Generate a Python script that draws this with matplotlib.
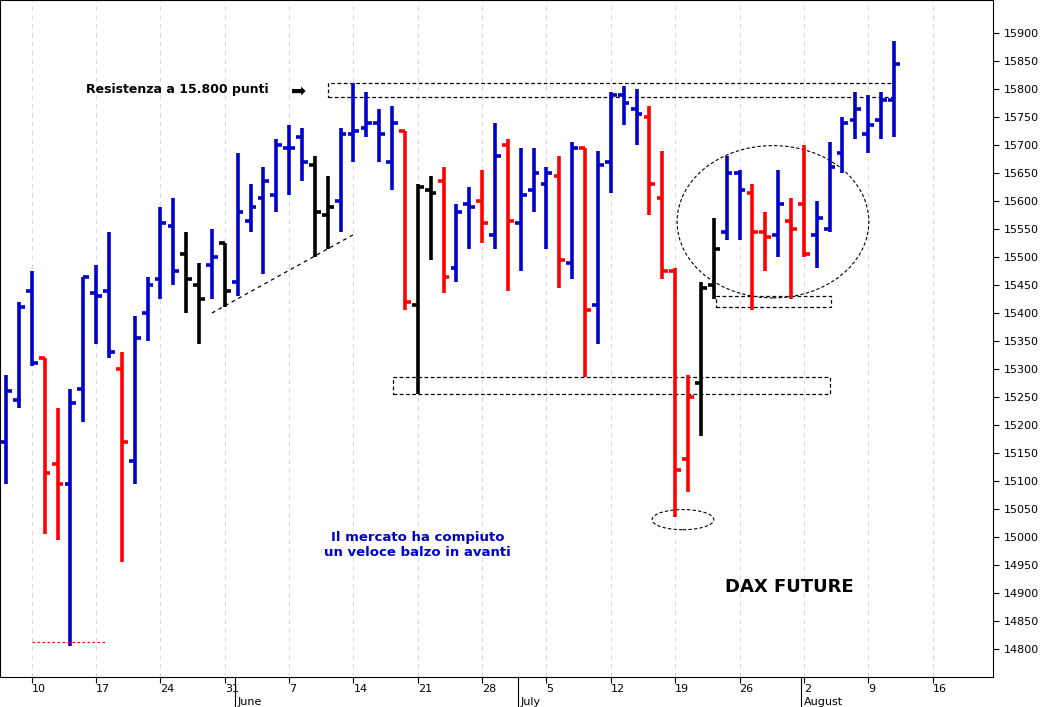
import numpy as np
import pandas as pd
import matplotlib
matplotlib.use("Agg")
import matplotlib.pyplot as plt
from matplotlib.patches import Rectangle, Ellipse

# DAX future daily bars, 6 May - 11 Aug 2021
dates = pd.bdate_range("2021-05-06", periods=70)
opens = [15170, 15245, 15440, 15320, 15130, 15095, 15265, 15435, 15440, 15300,
         15135, 15400, 15460, 15555, 15505, 15450, 15485, 15525, 15455, 15565,
         15605, 15610, 15695, 15715, 15665, 15575, 15600, 15720, 15730, 15740,
         15670, 15725, 15415, 15620, 15635, 15480, 15595, 15600, 15540, 15700,
         15560, 15620, 15630, 15645, 15490, 15695, 15415, 15670, 15790, 15765,
         15750, 15605, 15475, 15140, 15275, 15450, 15545, 15650, 15615, 15545,
         15540, 15565, 15595, 15540, 15550, 15685, 15745, 15720, 15745, 15780]
highs = [15290, 15420, 15475, 15320, 15230, 15265, 15465, 15485, 15545, 15330,
         15395, 15465, 15590, 15605, 15545, 15490, 15550, 15525, 15685, 15630,
         15660, 15710, 15735, 15730, 15680, 15645, 15730, 15810, 15795, 15765,
         15770, 15725, 15630, 15645, 15660, 15595, 15625, 15655, 15740, 15710,
         15695, 15695, 15660, 15680, 15705, 15695, 15690, 15795, 15805, 15800,
         15770, 15690, 15480, 15290, 15455, 15570, 15680, 15655, 15630, 15580,
         15655, 15605, 15700, 15600, 15705, 15750, 15795, 15790, 15795, 15885]
lows = [15095, 15230, 15305, 15005, 14995, 14805, 15205, 15345, 15320, 14955,
        15095, 15350, 15425, 15450, 15400, 15345, 15425, 15410, 15430, 15545,
        15470, 15580, 15610, 15635, 15500, 15515, 15545, 15670, 15715, 15670,
        15620, 15405, 15255, 15495, 15435, 15455, 15515, 15525, 15515, 15440,
        15475, 15580, 15515, 15445, 15460, 15285, 15345, 15615, 15735, 15700,
        15575, 15460, 15035, 15080, 15180, 15425, 15530, 15530, 15405, 15475,
        15500, 15425, 15500, 15480, 15545, 15650, 15710, 15685, 15710, 15715]
closes = [15260, 15410, 15310, 15115, 15095, 15240, 15465, 15430, 15330, 15170,
          15355, 15450, 15560, 15475, 15460, 15425, 15500, 15440, 15580, 15590,
          15635, 15700, 15695, 15670, 15580, 15590, 15720, 15725, 15740, 15720,
          15740, 15420, 15625, 15615, 15465, 15580, 15590, 15560, 15680, 15565,
          15610, 15650, 15650, 15495, 15695, 15405, 15665, 15790, 15775, 15755,
          15630, 15475, 15120, 15250, 15445, 15515, 15650, 15620, 15545, 15535,
          15595, 15550, 15505, 15570, 15660, 15740, 15765, 15735, 15780, 15845]
colors = list("bbbrrbbbbrbbbbkkbkbbbbbbkkbbbbbrkkrbbrbrbbbrbrbbbbrrrrkkbbrrbrrbbbbbbb")

cmap = {"b": "#0000cc", "r": "#ff0000", "k": "#000000"}
bar_colors = [cmap[c] for c in colors]

fig = plt.figure(figsize=(10.42, 7.07), dpi=100)
ax = fig.add_axes([0, 30 / 707, 993 / 1042, 677 / 707])

x = np.arange(len(dates))
ax.vlines(x, lows, highs, colors=bar_colors, lw=2.6)
ax.hlines(opens, x - 0.45, x, colors=bar_colors, lw=2.6)
ax.hlines(closes, x, x + 0.45, colors=bar_colors, lw=2.6)

ax.set_xlim(-0.47, 76.7)
ax.set_ylim(14750, 15959)

# weekly grid on Mondays
mondays = [i for i, d in enumerate(dates) if d.weekday() == 0]
grid_pos = mondays + [mondays[-1] + 5]
for g in grid_pos:
    ax.axvline(g, color="#d8d8e0", lw=0.8, ls=(0, (4, 4)), zorder=0)
day_labels = [str(d.day) for d in dates[mondays]] + ["16"]
ax.set_xticks(grid_pos)
ax.set_xticklabels(day_labels, fontsize=8)
ax.tick_params(axis="x", length=4, pad=1)
for lbl in ax.get_xticklabels():
    lbl.set_horizontalalignment("left")

ax.yaxis.tick_right()
ax.set_yticks(np.arange(14800, 15901, 50))
ax.tick_params(axis="y", labelsize=8, length=4)

# month labels
for pos, name in [(18, "June"), (40, "July"), (62, "August")]:
    ax.text(pos, -0.03, name, transform=ax.get_xaxis_transform(), fontsize=8,
            ha="left", va="top")
    ax.plot([pos - 0.2, pos - 0.2], [-0.045, 0], transform=ax.get_xaxis_transform(),
            color="black", lw=0.8, clip_on=False)

# annotations
dash = dict(fill=False, ls=(0, (3, 2)), lw=0.9, ec="black")
ax.add_patch(Rectangle((25.0, 15785), 43.9, 25, **dash))
ax.add_patch(Rectangle((30.1, 15255), 33.9, 30, **dash))
ax.add_patch(Rectangle((55.2, 15410), 8.9, 20, **dash))
ax.add_patch(Ellipse((59.6, 15563), 14.9, 272, fill=False, ls=(0, (3, 2)), lw=0.8))
ax.add_patch(Ellipse((52.6, 15031), 4.8, 36, fill=False, ls=(0, (3, 2)), lw=0.8))
ax.plot([16, 27], [15400, 15540], color="black", ls=(0, (3, 3)), lw=0.9)
ax.plot([2, 7.7], [14812, 14812], color="red", ls=(0, (2, 2)), lw=0.9)

ax.text(6.2, 15800, "Resistenza a 15.800 punti", fontsize=9, fontweight="bold",
        va="center")
ax.text(22.7, 15796, "\u27a1", fontsize=13, va="center", ha="center")
ax.text(32, 14985, "Il mercato ha compiuto\nun veloce balzo in avanti", fontsize=9.5,
        fontweight="bold", color="#0000cc", ha="center", va="center")
ax.text(60.9, 14910, "DAX FUTURE", fontsize=13, fontweight="bold", ha="center",
        va="center")

fig.savefig("out.png", dpi=100)
